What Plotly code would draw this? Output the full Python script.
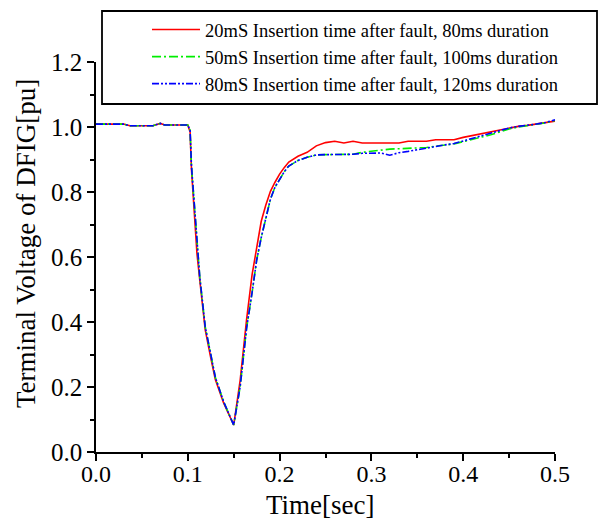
import plotly.graph_objects as go

time_s = [0, 0.03, 0.037, 0.062, 0.07, 0.075, 0.1, 0.1025, 0.104, 0.108, 0.11, 0.113,
          0.119, 0.125, 0.13, 0.139, 0.15, 0.157, 0.164, 0.17, 0.175, 0.18, 0.185, 0.19,
          0.195, 0.2, 0.205, 0.21, 0.22, 0.23, 0.24, 0.25, 0.26, 0.27, 0.28, 0.29, 0.30,
          0.31, 0.32, 0.33, 0.34, 0.35, 0.36, 0.37, 0.38, 0.39, 0.40, 0.41, 0.42, 0.43,
          0.44, 0.45, 0.46, 0.47, 0.48, 0.49, 0.50]

v_20ms = [1.009, 1.009, 1.004, 1.004, 1.011, 1.006, 1.006, 0.985, 0.87, 0.715, 0.61, 0.53,
          0.376, 0.29, 0.223, 0.151, 0.083, 0.22, 0.407, 0.545, 0.63, 0.71, 0.76, 0.802,
          0.83, 0.855, 0.875, 0.892, 0.91, 0.922, 0.942, 0.952, 0.956, 0.951, 0.956, 0.951, 0.951,
          0.951, 0.951, 0.951, 0.956, 0.956, 0.956, 0.961, 0.961, 0.961, 0.968, 0.974, 0.98, 0.986,
          0.991, 0.997, 1.002, 1.005, 1.01, 1.013, 1.018]

v_50ms = [1.009, 1.009, 1.004, 1.004, 1.011, 1.006, 1.006, 0.99, 0.88, 0.73, 0.63, 0.54,
          0.385, 0.295, 0.23, 0.155, 0.083, 0.2, 0.38, 0.49, 0.59, 0.66, 0.72, 0.778,
          0.815, 0.838, 0.862, 0.88, 0.897, 0.907, 0.914, 0.915, 0.915, 0.916, 0.916, 0.922, 0.926,
          0.93, 0.932, 0.933, 0.934, 0.935, 0.937, 0.941, 0.944, 0.948, 0.955, 0.962, 0.968, 0.976,
          0.985, 0.994, 1.0, 1.004, 1.008, 1.013, 1.02]

v_80ms = [1.009, 1.009, 1.004, 1.004, 1.011, 1.006, 1.006, 0.99, 0.88, 0.73, 0.63, 0.54,
          0.385, 0.295, 0.23, 0.155, 0.083, 0.2, 0.38, 0.49, 0.59, 0.66, 0.72, 0.778,
          0.815, 0.838, 0.862, 0.88, 0.897, 0.907, 0.914, 0.915, 0.915, 0.916, 0.916, 0.919, 0.92,
          0.92, 0.913, 0.921, 0.925, 0.93, 0.937, 0.941, 0.945, 0.949, 0.957, 0.964, 0.971, 0.979,
          0.988, 0.997, 1.002, 1.005, 1.009, 1.014, 1.022]

series_names = ["20mS Insertion time after fault, 80ms duration",
                "50mS Insertion time after fault, 100ms duration",
                "80mS Insertion time after fault, 120ms duration"]
series_colors = ["#ff0000", "#00ee00", "#0000ff"]
series_dash = ["solid", "9px,3px,2px,3px", "7px,2px,2px,2px,2px,2px"]

x_ticks = [0.0, 0.1, 0.2, 0.3, 0.4, 0.5]
y_ticks = [0.0, 0.2, 0.4, 0.6, 0.8, 1.0, 1.2]
x_title = "Time[sec]"
y_title = "Terminal Voltage of DFIG[pu]"

FONT = "Liberation Serif"

fig = go.Figure()
for vals, name, col, dash in zip([v_20ms, v_50ms, v_80ms], series_names, series_colors, series_dash):
    fig.add_trace(go.Scatter(x=time_s, y=vals, mode="lines", name=name,
                             line=dict(color=col, width=1.6, dash=dash)))

W, H = 602, 523
L, R, T, B = 96, 555, 62, 452
pw, ph = R - L, B - T

def px_x(p):
    return (p - L) / pw

def px_y(p):
    return (B - p) / ph

fig.update_layout(
    width=W, height=H,
    margin=dict(l=L, r=W - R, t=T, b=H - B, pad=0, autoexpand=False),
    paper_bgcolor="white", plot_bgcolor="white",
    font=dict(family=FONT, color="black"),
    showlegend=True,
    legend=dict(
        x=px_x(147), y=px_y(11), xanchor="left", yanchor="top",
        bgcolor="rgba(0,0,0,0)", borderwidth=0,
        font=dict(family=FONT, size=18.5, color="black"),
        itemwidth=48, tracegroupgap=0,
    ),
    xaxis=dict(
        range=[0, 0.5], tickvals=x_ticks, ticktext=[f"{v:.1f}" for v in x_ticks],
        showgrid=False, zeroline=False, showline=True, linecolor="black", linewidth=1.5,
        ticks="outside", ticklen=7, tickwidth=1.5, tickcolor="black",
        minor=dict(tickvals=[0.05, 0.15, 0.25, 0.35, 0.45], ticks="outside", ticklen=4,
                   tickwidth=1.5, tickcolor="black"),
        tickfont=dict(family=FONT, size=24, color="black"),
        ticklabelstandoff=-8,
    ),
    yaxis=dict(
        range=[0, 1.2], tickvals=y_ticks, ticktext=[f"{v:.1f}" for v in y_ticks],
        showgrid=False, zeroline=False, showline=True, linecolor="black", linewidth=1.5,
        ticks="outside", ticklen=7, tickwidth=1.5, tickcolor="black",
        minor=dict(tickvals=[0.1, 0.3, 0.5, 0.7, 0.9, 1.1], ticks="outside", ticklen=4,
                   tickwidth=1.5, tickcolor="black"),
        tickfont=dict(family=FONT, size=25, color="black"),
    ),
    annotations=[
        dict(text=x_title, xref="paper", yref="paper", x=px_x(320), y=px_y(505),
             xanchor="center", yanchor="middle", showarrow=False,
             font=dict(family=FONT, size=27, color="black")),
        dict(text=y_title, xref="paper", yref="paper", x=px_x(26), y=px_y(244),
             xanchor="center", yanchor="middle", showarrow=False, textangle=-90,
             font=dict(family=FONT, size=27, color="black")),
    ],
    shapes=[dict(type="rect", xref="paper", yref="paper",
                 x0=px_x(102), x1=px_x(597), y0=px_y(104), y1=px_y(11),
                 line=dict(color="black", width=1.8), fillcolor="rgba(0,0,0,0)", layer="above")],
)

fig.write_html("out.html", config={"displayModeBar": False},
               post_script="document.body.style.margin='0';document.body.style.padding='0';")
